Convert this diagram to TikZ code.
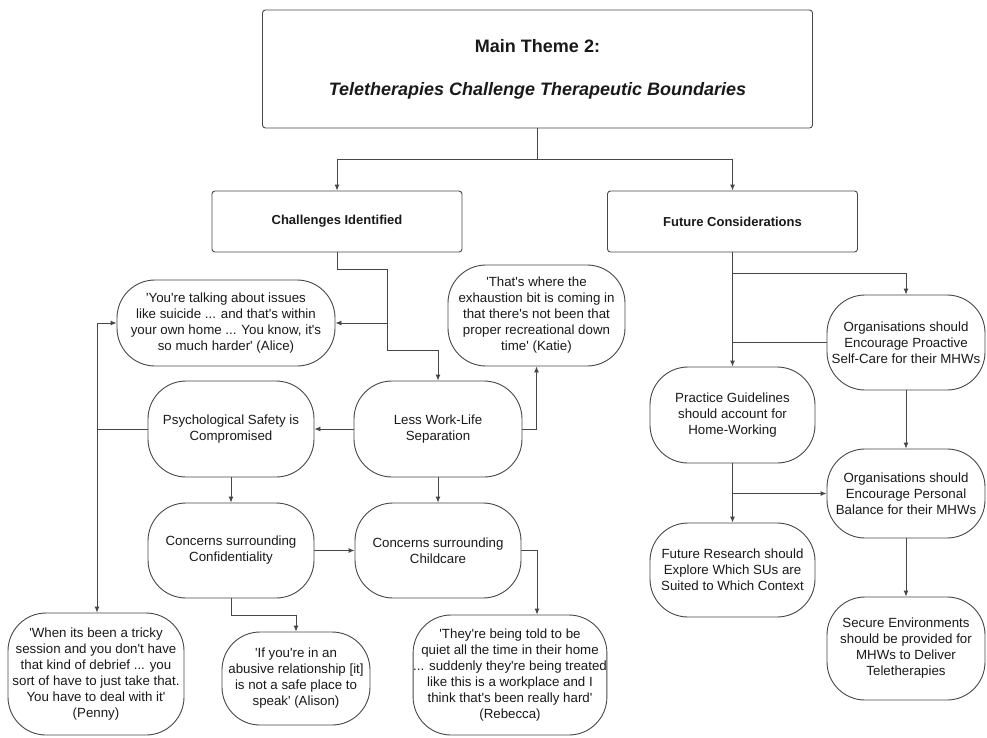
\documentclass[tikz,border=0pt]{standalone}
\usepackage{fontspec}
\setmainfont{Liberation Sans}[Ligatures=TeXOff]
\usetikzlibrary{arrows.meta}
\begin{document}
\begin{tikzpicture}[x=1pt,y=-1pt,
  every node/.style={font=\fontsize{13.3}{16}\selectfont, text=black!90, align=center, inner sep=0pt},
  line/.style={draw=black!72, line width=0.9pt},
  arr/.style={line, -{Latex[length=6pt,width=5pt]}},
  boxnode/.style={line, rectangle, rounded corners=3pt},
  pill/.style={line, rectangle, rounded corners=38pt}
]
\useasboundingbox (0,0) rectangle (987,737);

% nodes
\node[boxnode, minimum width=550pt, minimum height=118pt,
      font=\fontsize{18}{43}\selectfont\bfseries] (main) at (537.5,69)
  {Main Theme 2:\\ \textit{Teletherapies Challenge Therapeutic Boundaries}};
\node[boxnode, minimum width=250pt, minimum height=61pt, font=\fontsize{13}{16}\selectfont\bfseries]
  (challenges) at (337,221.5) {Challenges Identified};
\node[boxnode, minimum width=250pt, minimum height=61pt, font=\fontsize{13}{16}\selectfont\bfseries]
  (future) at (732.5,221.5) {Future Considerations};

\node[pill, minimum width=218pt, minimum height=86pt] (alice) at (226,323)
  {'You're talking about issues\\ like suicide ... and that's within\\ your own home ... You know, it's\\ so much harder' (Alice)};
\node[pill, minimum width=177pt, minimum height=101pt] (katie) at (536.5,315.5)
  {'That's where the\\ exhaustion bit is coming in\\ that there's not been that\\ proper recreational down\\ time' (Katie)};
\node[pill, minimum width=166pt, minimum height=96pt] (psych) at (231,429)
  {Psychological Safety is\\ Compromised};
\node[pill, minimum width=168pt, minimum height=96pt] (lwl) at (438,429)
  {Less Work-Life\\ Separation};
\node[pill, minimum width=166pt, minimum height=95pt] (conf) at (231,550.5)
  {Concerns surrounding\\ Confidentiality};
\node[pill, minimum width=166pt, minimum height=95pt] (child) at (438,550.5)
  {Concerns surrounding\\ Childcare};
\node[pill, minimum width=176pt, minimum height=122pt] (penny) at (96,674)
  {'When its been a tricky\\ session and you don't have\\ that kind of debrief ... you\\ sort of have to just take that.\\ You have to deal with it'\\ (Penny)};
\node[pill, minimum width=148pt, minimum height=93pt] (alison) at (296,678.5)
  {'If you're in an\\ abusive relationship [it]\\ is not a safe place to\\ speak' (Alison)};
\node[pill, minimum width=189pt, minimum height=120pt] (rebecca) at (510,675)
  {'They're being told to be\\ quiet all the time in their home\\ ... suddenly they're being treated\\ like this is a workplace and I\\ think that's been really hard'\\ (Rebecca)};

\node[pill, minimum width=165pt, minimum height=96pt] (practice) at (732.5,415)
  {Practice Guidelines\\ should account for\\ Home-Working};
\node[pill, minimum width=158pt, minimum height=95pt] (proactive) at (906,342.5)
  {Organisations should\\ Encourage Proactive\\ Self-Care for their MHWs};
\node[pill, minimum width=158pt, minimum height=89pt] (personal) at (906,493.5)
  {Organisations should\\ Encourage Personal\\ Balance for their MHWs};
\node[pill, minimum width=165pt, minimum height=94pt] (research) at (732.5,570)
  {Future Research should\\ Explore Which SUs are\\ Suited to Which Context};
\node[pill, minimum width=158pt, minimum height=103pt] (secure) at (906,648.5)
  {Secure Environments\\ should be provided for\\ MHWs to Deliver\\ Teletherapies};

% junction coordinates
\coordinate (j1) at (537.5,159);
\coordinate (c1) at (387,269);
\coordinate (c2) at (387,350);
\coordinate (c3) at (387,323);
\coordinate (p1) at (97,429);
\coordinate (f1) at (732.5,273);
\coordinate (f2) at (732.5,493.5);

% connectors
\draw[line] (main.south) -- (j1);
\draw[arr] (j1) -| (challenges.north);
\draw[arr] (j1) -| (future.north);

\draw[arr] (challenges.south) |- (c1) -- (c2) -| (lwl.north);
\draw[arr] (c3) -- (alice.east);
\draw[arr] (lwl.west) -- (psych.east);
\draw[arr] (lwl.east) -| (katie.south);
\draw[arr] (lwl.south) -- (child.north);
\draw[line] (psych.west) -- (p1);
\draw[arr] (p1) |- (alice.west);
\draw[arr] (p1) -- (p1 |- penny.north);
\draw[arr] (psych.south) -- (conf.north);
\draw[arr] (conf.east) -- (child.west);
\draw[arr] (conf.south) -- ++(0,17) -| (alison.north);
\draw[arr] (child.east) -| ([xshift=27pt]rebecca.north);

\draw[arr] (future.south) -- (practice.north);
\draw[arr] (f1) -| (proactive.north);
\draw[line] (proactive.west) -- (proactive.west -| practice.north);
\draw[arr] (proactive.south) -- (personal.north);
\draw[arr] (practice.south) -- (research.north);
\draw[arr] (f2) -- (personal.west);
\draw[arr] (personal.south) -- (secure.north);
\end{tikzpicture}
\end{document}
